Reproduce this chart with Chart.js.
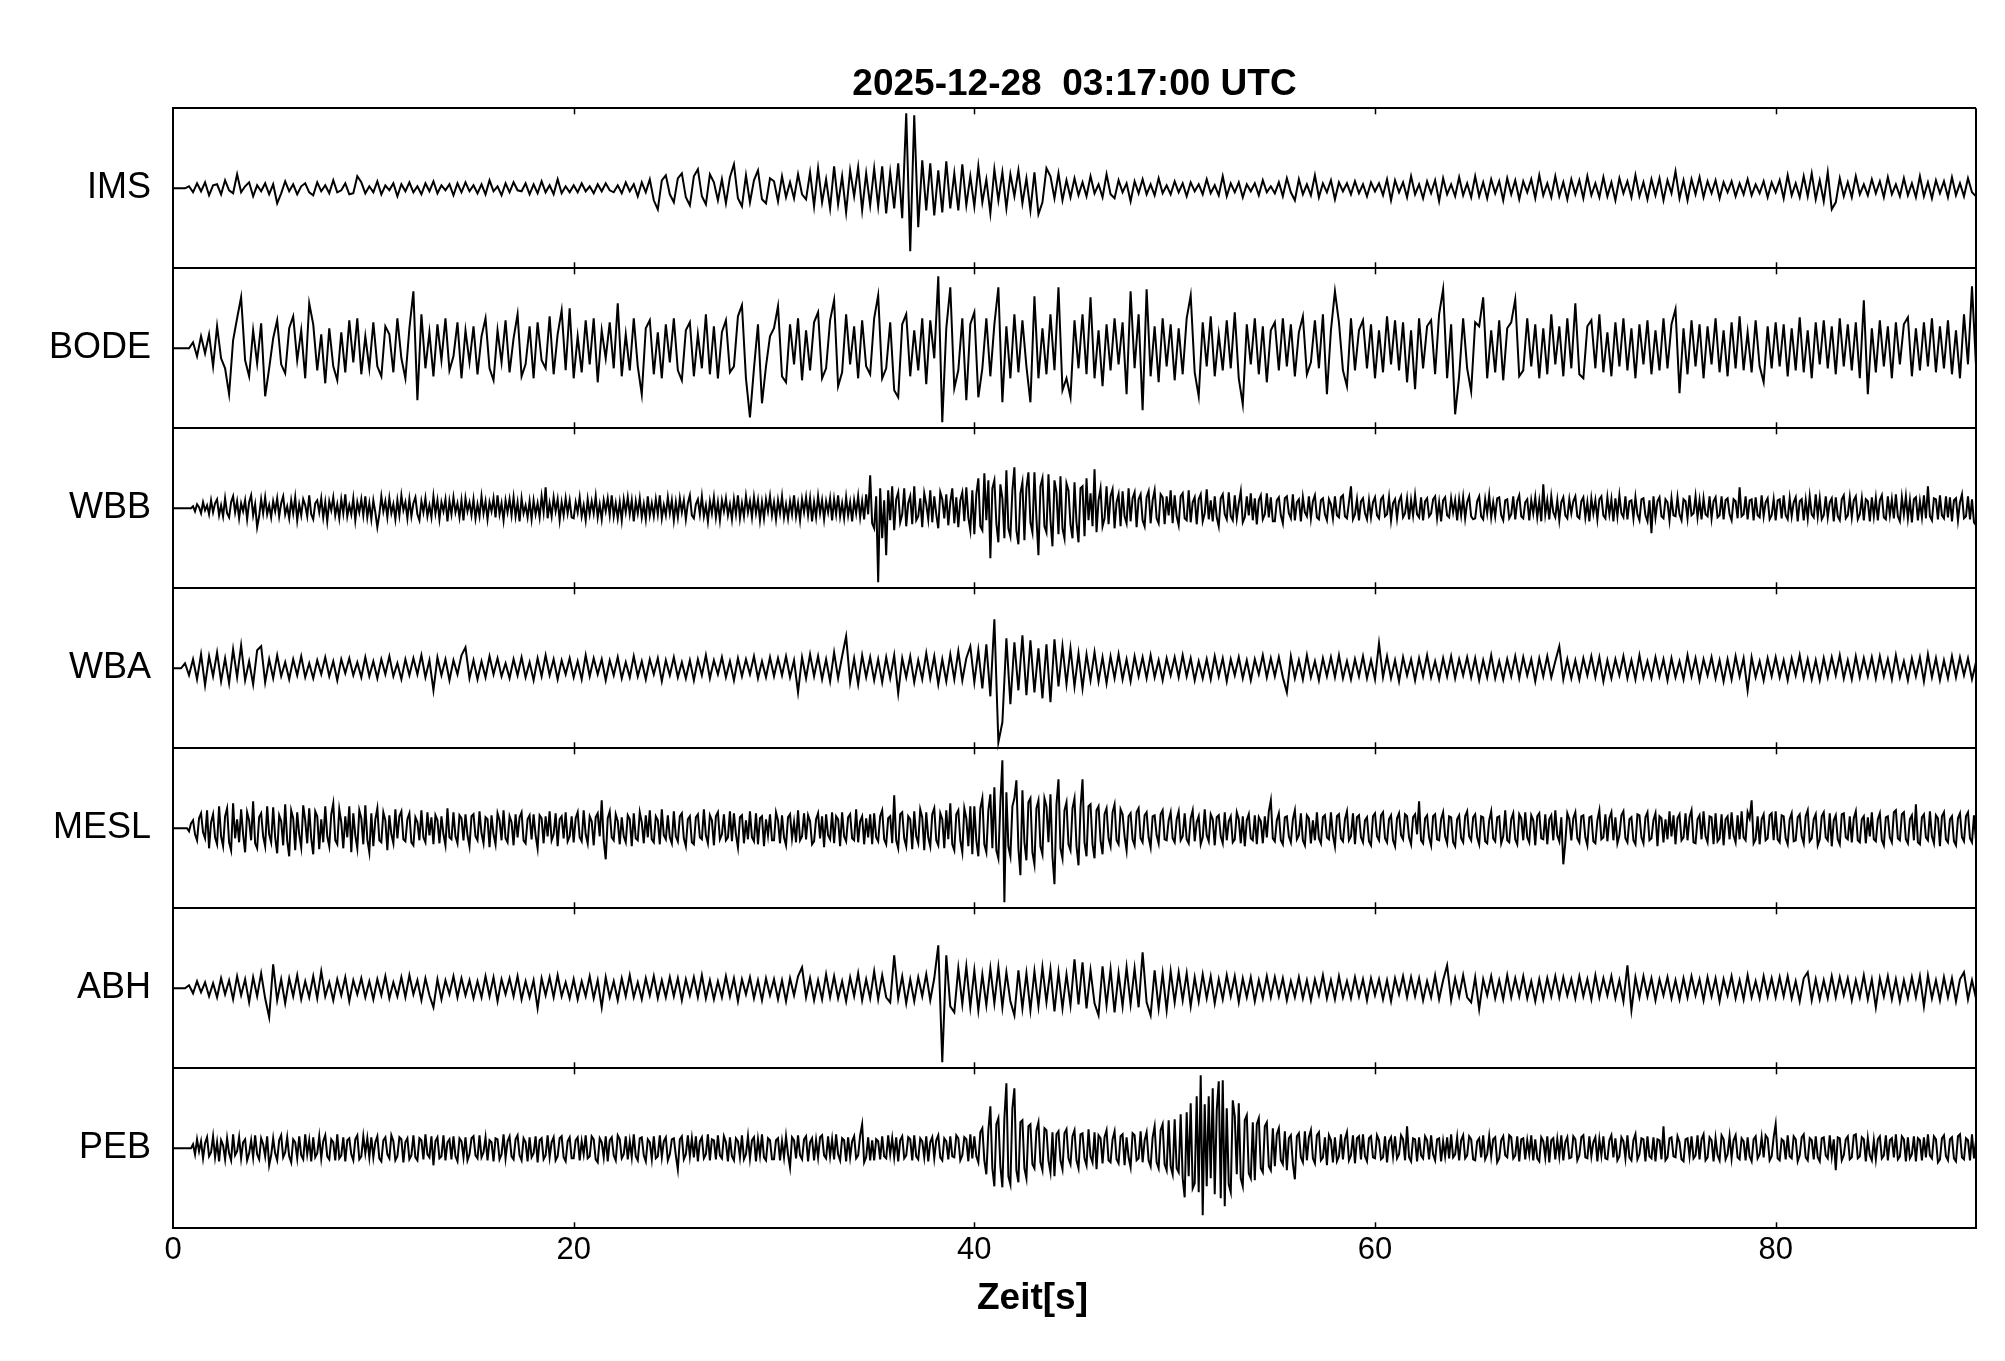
<!DOCTYPE html>
<html>
<head>
<meta charset="utf-8">
<title>Seismogramm</title>
<script src="https://cdn.jsdelivr.net/npm/chart.js@4.4.1/dist/chart.umd.min.js"></script>
<style>
  html, body { margin: 0; padding: 0; background: #fff; }
  canvas { display: block; }
</style>
</head>
<body>
<canvas id="seismo" width="2005" height="1361"></canvas>
<script>
const TITEL = "2025-12-28  03:17:00 UTC";
const X_TITEL = "Zeit[s]";
const STATIONEN = ["IMS", "BODE", "WBB", "WBA", "MESL", "ABH", "PEB"];
const ABTAST = [0.2, 0.2, 0.1, 0.2, 0.1, 0.2, 0.1];
const X_TICKS = [0, 20, 40, 60, 80];

const IMS = [
  0,0,0,0,2,-4,5,-3,6,-7,3,4,-6,8,-2,-5,14,-4,2,6,-8,3,-3,5,-6,
  4,-15,-5,7,-3,4,-6,2,5,-4,-7,6,-3,3,-5,8,-4,-2,5,-6,-5,12,6,-5,2,
  -4,7,-6,3,-2,5,-8,4,-3,6,-4,2,-6,5,-3,7,-5,3,-2,4,-7,5,-4,6,-3,
  3,-5,4,-6,8,-3,2,-7,5,-4,6,-2,-3,5,-6,4,-5,7,-4,3,-6,9,-5,2,-4,
  3,-4,5,-3,2,-5,4,-3,5,-2,-4,3,-5,6,-3,4,-8,6,-4,9,-12,-21,8,13,-6,
  -14,10,15,-9,-17,12,19,-8,-16,14,6,-12,9,-15,11,24,-10,-18,13,-14,8,18,-11,-15,10,
  7,-13,12,-9,6,-10,14,-6,-11,16,-18,20,-14,9,-20,22,-16,12,-24,18,-8,21,-22,15,-17,
  20,-18,22,-25,16,-20,25,-30,75,-63,73,-39,28,-22,25,-27,18,-24,27,-20,15,-22,24,-17,12,
  -18,22,-14,9,-25,19,-12,16,-20,14,-8,18,-15,10,-22,16,-26,-14,20,12,-10,15,-12,8,-9,
  10,-7,6,-8,12,-5,4,-9,14,-6,-10,8,-4,5,-13,7,-5,9,-6,4,-7,10,-5,3,-6,
  7,-4,5,-8,6,-3,4,-6,9,-5,3,-7,12,-8,5,-4,6,-9,4,-3,5,-7,8,-4,2,
  -5,6,-8,10,-4,-12,9,-6,4,-7,13,-9,5,-4,8,-11,6,-3,5,-6,7,-5,4,-8,6,
  -3,5,-7,9,-12,8,-4,6,-9,12,-6,4,-10,7,-5,8,-13,10,-6,4,-8,11,-7,5,-9,
  12,-8,6,-10,9,-5,7,-12,10,-6,8,-11,7,-4,9,-10,13,-7,5,-9,12,-8,6,-11,9,
  -6,8,-10,12,-7,5,-9,11,-8,6,-12,10,-5,7,-9,13,-8,6,-11,9,-7,10,-12,8,-5,
  17,-10,8,-12,9,-6,11,-9,7,-5,8,-10,6,-4,7,-8,5,-6,9,-7,4,-5,7,-9,6,
  -4,8,-10,13,-7,5,-9,12,-8,15,-11,8,-13,16,-21,-14,10,-8,6,-9,12,-6,4,-7,9,
  -5,7,-9,11,-6,4,-8,10,-7,5,-9,12,-8,6,-10,8,-5,7,-9,11,-7,5,-8,10,-4,
  -8
];

const BODE = [
  0,0,0,0,0,6,-8,12,-5,14,-18,22,-10,-20,-46,8,30,51,-12,-28,18,-15,25,-48,-20,
  10,28,-16,-25,20,32,-12,18,-30,45,24,-22,14,-35,20,-18,-32,16,-24,28,-14,30,-26,12,-20,
  26,-18,-28,22,14,-24,30,-10,-30,20,57,-52,34,-20,16,-28,24,-12,30,-22,-8,26,-30,18,-14,
  22,-26,12,30,-20,-32,18,-14,28,-24,10,34,-28,-16,22,-30,26,-12,-20,32,-26,14,38,-22,40,
  -30,12,-24,28,-16,30,-34,18,-10,26,-20,45,-28,14,-22,30,-18,-46,20,28,-26,16,-30,24,-14,
  30,-22,-32,18,26,-28,14,-20,34,-26,22,-30,16,28,-24,-18,32,43,-30,-69,-20,24,-55,-18,12,
  20,42,-28,-34,24,-16,30,-32,18,-22,26,36,-30,-20,28,48,-38,-24,34,-16,22,-30,28,-18,-26,
  30,53,-30,-20,26,-42,-49,24,34,-28,18,-22,30,-36,28,-10,72,-74,20,61,-40,-22,30,-52,24,
  36,-49,-20,30,-28,24,61,-54,22,-30,34,-24,28,-18,-54,52,-30,20,-26,34,-22,61,-42,-30,-49,
  28,-20,34,-26,51,-30,18,-38,24,-22,30,-16,26,-46,57,-20,34,-62,59,-28,22,-34,30,-18,24,
  -32,20,-26,30,53,-24,-48,26,-18,32,-28,14,-22,28,-20,36,-30,-56,24,-16,30,-26,22,-34,18,
  26,-22,30,-18,24,-28,16,32,-26,-14,28,-20,34,-46,18,57,26,-22,-38,30,-22,18,28,-20,24,
  -30,18,-24,32,-16,28,-22,26,-34,18,-41,30,-20,22,28,-26,34,59,-30,24,-66,-28,30,-20,-43,
  26,22,51,-30,18,-24,28,-32,20,26,49,-28,-22,30,-18,24,-30,20,-26,34,-16,22,-28,30,-20,
  45,-26,-30,22,28,-20,34,-24,16,-28,26,-18,30,-22,20,-30,24,-16,28,-26,18,-22,30,-20,24,
  39,-45,20,-26,28,-18,24,-30,22,-16,30,-24,18,-28,26,-20,32,-22,16,-24,28,-18,-34,22,-20,
  26,-18,24,-28,20,-22,31,-24,18,-30,26,-16,28,-20,22,-26,30,-18,24,-22,26,-30,48,-46,20,
  -24,28,-18,22,-30,26,-16,24,31,-28,20,-22,26,-18,30,-24,22,-20,28,-26,18,-30,34,-16,62,
  -17
];

const WBB = [
  0,0,0,0,0,0,0,0,0,0,2,-3,4,1,-5,6,-2,3,-6,8,-4,5,9,-7,3,-8,10,-5,-9,6,12,-4,7,-10,5,-3,8,-11,6,13,-7,4,-19,-8,9,-5,11,-6,3,-9,
  7,-3,10,-8,5,12,-6,2,-10,8,-5,11,-12,4,-7,9,3,-8,13,-6,-11,5,8,-4,10,-9,6,-13,7,-2,11,-7,4,-10,9,-5,14,-8,3,-6,10,-12,6,-4,9,-7,12,-9,5,-11,
  8,-4,-19,-6,12,-3,7,-9,10,-5,4,-11,8,-7,13,-2,6,-10,9,-8,5,11,-6,-12,7,-4,10,-8,3,-9,12,-5,8,-11,6,-3,9,-13,7,-6,11,-4,5,-9,8,-12,10,-3,6,-7,
  9,-10,4,-8,12,-5,7,-11,6,-3,10,-9,13,-6,5,-12,8,-4,9,-7,11,-8,6,-13,10,-5,3,-9,7,-11,8,-6,5,-9,12,-4,21,-10,5,-8,11,-3,9,-12,6,-7,10,-5,8,-9,
  -10,6,-4,11,-8,3,-12,9,-6,7,-5,12,-9,4,-11,8,-3,10,-7,13,-8,5,-10,6,-12,9,-4,11,-6,8,-13,7,-5,10,-9,4,-11,12,-7,5,-8,9,-6,13,-10,3,-7,11,-5,8,
  -12,6,-9,10,-4,8,-11,5,13,-7,-10,4,9,-6,12,-8,3,-13,7,-5,11,-9,6,-12,8,-3,10,-7,4,-11,9,-6,13,-10,5,-8,12,-4,7,-9,11,-5,8,-12,6,-10,9,-3,12,-7,
  6,-11,8,-5,12,-9,4,-10,7,-6,13,-8,5,-12,9,-4,11,-7,10,-13,6,-9,12,-5,8,-11,7,-4,10,-12,9,-6,13,-8,5,-10,11,-7,6,-13,8,-5,12,-9,7,-11,14,-6,33,-15,
  -20,12,-74,20,-30,8,-47,18,-12,22,-22,9,16,-14,-6,20,-18,5,12,-16,22,-12,-8,10,-19,15,4,-11,18,-14,12,-6,-20,16,9,-10,14,-17,6,20,-15,11,-19,8,16,-13,21,-9,-22,18,
  -26,14,30,-18,-22,35,-12,28,-50,20,28,-15,-34,24,10,-30,38,-20,-28,18,41,-22,-36,15,26,-32,20,36,-14,-24,36,-10,-47,22,30,-18,-24,34,-12,-38,28,16,-26,32,-20,-30,25,18,-16,-30,
  26,-14,-34,20,22,-28,30,-12,15,-18,39,-24,8,20,-18,-10,22,-16,12,19,-20,6,14,-18,17,-8,-15,20,-13,10,16,-19,9,14,-12,-18,11,17,-15,8,18,-10,-15,14,11,-16,12,-7,18,-15,
  13,-8,-17,12,15,-10,-12,18,-14,6,11,-16,9,14,-13,-5,19,-11,8,-13,12,-9,-18,10,14,-6,-11,16,-8,-12,13,-10,5,17,-14,-9,12,-7,15,-12,10,-16,8,13,-11,-6,15,-9,11,-13,
  -13,8,11,-7,-15,10,12,-5,-10,14,-12,6,9,-13,11,-4,-8,12,-10,7,13,-9,-11,8,10,-6,-12,9,4,-10,12,-7,-9,11,13,-8,-10,6,22,-11,-6,9,-12,7,10,-5,-11,8,-9,6,
  11,-7,-10,9,12,-8,-6,11,-12,5,9,-10,7,12,-9,-5,10,-11,8,-7,13,-6,-9,11,-12,7,10,-8,-5,9,12,-10,6,-13,8,11,-7,-9,10,-4,8,-12,9,-7,11,-10,6,12,-8,-11,
  -10,7,12,-8,-11,9,-5,13,-9,6,-8,10,11,-7,-12,8,9,-10,-6,12,-11,7,13,-8,-10,6,9,-12,8,-5,11,-9,7,-13,24,-6,8,-11,12,-4,-9,8,-12,6,11,-7,-10,9,-5,7,
  12,-8,-10,7,11,-9,6,-13,10,-5,8,-11,9,12,-7,-10,11,-6,9,-13,10,-8,13,-5,-9,12,-11,7,8,-10,11,-6,-12,9,10,-7,-13,8,-25,12,-9,7,11,-8,-10,9,6,-12,10,-7,
  -8,11,-6,-12,9,7,-10,13,-7,-5,12,-9,8,-11,10,-6,-8,12,-10,7,11,-9,-7,12,-11,8,10,-6,-12,9,7,-10,21,-8,-6,12,-11,8,9,-12,11,-7,-9,13,-8,6,10,-11,-7,9,
  -12,8,9,-10,13,-7,-11,10,-8,6,11,-13,7,9,-12,8,-10,12,-6,-9,14,-8,10,-11,-7,12,-9,6,10,-13,11,-8,-12,9,13,-10,-7,11,-9,8,12,-11,-6,10,-12,9,7,-13,11,-8,
  10,-12,8,13,-9,-11,12,-7,9,-10,14,-8,-13,11,-6,12,-10,8,-14,9,11,-12,7,-9,13,-10,22,-8,-12,10,9,-11,13,-7,-10,12,-9,11,-13,8,10,-12,6,14,-10,-8,12,-11,9,-14,
  -17
];

const WBA = [
  0,0,0,5,-7,9,-11,14,-17,12,-8,16,-13,10,-15,19,-9,23,-12,7,-16,18,22,-14,9,
  -10,13,-8,6,-11,9,-7,12,-9,5,-10,8,-6,11,-8,7,-12,9,-5,10,-7,6,-9,11,-8,
  7,-10,9,-6,12,-8,5,-11,9,-7,10,-6,13,-9,8,-22,11,-7,9,-12,8,-6,13,21,-10,
  8,-11,7,-9,12,-6,10,-8,5,-10,9,-7,11,-9,6,-12,10,-8,13,-7,9,-11,8,-6,10,
  -9,7,-11,13,-8,10,-6,9,-12,8,-7,11,-10,6,-9,12,-8,7,-11,9,-6,10,-13,8,-7,
  11,-9,6,-10,8,-12,9,-7,13,-10,8,-6,11,-9,7,-12,10,-8,9,-6,12,-10,7,-9,11,
  -8,10,-7,12,-9,8,-24,11,-10,14,-8,12,-11,9,-13,16,-10,12,32,-14,10,-16,13,-9,11,
  -12,9,-14,11,-10,13,-25,10,-9,12,-14,8,-11,15,-10,12,-16,9,-13,14,-11,17,-12,10,22,
  -14,18,-20,24,-28,49,-74,-54,30,-36,26,-22,33,-27,28,-24,20,-30,24,-34,29,-18,22,-16,20,
  -18,15,-20,14,-12,16,-13,11,-15,12,-10,14,-11,9,-13,12,-8,11,-10,13,-9,8,-12,10,-7,
  11,-9,13,-8,10,-12,7,-10,9,-11,12,-8,10,-13,9,-7,11,-10,8,-12,9,-6,13,-9,10,
  -8,11,-9,-24,12,-10,8,-11,13,-9,7,-12,10,-8,11,-9,13,-10,7,-11,9,-8,12,-10,8,
  -11,25,-9,12,-10,8,-13,11,-7,9,-12,10,-8,13,-9,7,-11,10,-8,12,-10,9,-7,11,-9,
  10,-12,8,-9,13,-10,7,-11,9,-8,12,-10,11,-7,9,-13,10,-8,12,-9,7,22,-11,9,-10,
  8,-11,10,-7,12,-9,11,-13,8,-10,9,-7,12,-10,8,-11,13,-9,7,-10,11,-8,9,-12,10,
  -9,7,-11,13,-8,10,-12,9,-7,11,-10,8,-13,9,-11,12,-8,10,-22,11,-9,7,-12,10,-8,
  11,-9,8,-12,10,-7,13,-10,9,-11,8,-12,10,-9,11,-7,13,-10,8,-11,12,-9,10,-8,11,
  -10,12,-8,9,-11,13,-9,7,-12,10,-8,11,-13,14,-9,10,-12,8,-10,12,-9,11,-7,10,-11,
  6
];

const MESL = [
  0,0,0,0,0,0,0,0,-3,5,8,-6,-12,10,15,-4,-10,18,-20,6,14,-9,-16,22,-8,-18,12,20,-14,-22,25,-10,9,-14,19,-6,-24,16,8,-12,27,-15,-20,11,15,-8,-18,22,-6,-14,
  21,-9,-25,13,7,-17,24,-12,-28,18,10,-22,16,-6,-19,23,8,-15,20,-10,-26,17,12,-21,9,-14,22,-8,-18,14,25,-12,-16,19,6,-20,12,-9,22,-24,15,-7,-20,18,10,-16,23,-11,-24,15,
  -18,9,20,-12,-14,16,8,-22,13,-6,-15,19,-10,12,17,-11,-13,9,15,-14,-17,11,6,-12,18,-9,-14,16,-7,11,-16,13,8,-15,12,-6,-17,20,-9,-11,16,-8,-15,13,10,-12,14,-7,-18,12,
  14,-8,-12,17,-5,-15,11,9,-19,13,-6,-16,15,8,-12,18,-10,-14,12,6,-17,14,-9,11,16,-12,-15,9,13,-11,14,-7,-20,13,10,-15,12,-8,17,-12,-6,15,-18,9,12,-10,16,-13,-8,12,
  -14,10,16,-9,-13,18,-6,-15,12,7,-17,11,15,-8,28,-12,-31,10,17,-9,-12,14,7,-16,11,-8,-14,13,9,-18,15,-10,-12,16,6,-15,13,-9,18,-11,-14,12,8,-16,19,-7,-11,13,-9,-15,
  17,-8,-13,12,15,-10,-18,9,12,-14,-16,11,14,-9,-11,19,-7,-15,13,8,-17,12,16,-11,-6,14,-12,-9,17,-13,15,-6,-19,11,13,-15,8,-11,17,-9,-13,15,-16,10,12,-18,9,-7,14,-12,
  -12,16,8,-15,13,-9,-17,11,14,-10,6,-14,18,-12,-8,15,-11,13,7,-16,-13,9,15,-10,12,-19,14,-7,-11,16,-15,12,9,-18,16,-8,-13,11,14,-10,-12,19,-14,7,12,-16,10,-9,14,-16,
  15,-9,-13,12,18,-11,-16,10,12,-15,33,-12,-20,14,16,-10,-18,12,9,-21,17,-8,-15,19,11,-22,16,-9,-18,14,20,-12,-17,15,9,-20,18,-11,25,-16,-22,14,18,-12,-24,20,10,-18,22,-26,
  22,-12,-28,20,30,-16,-24,18,34,-20,41,-22,-30,26,68,-74,36,-18,-28,22,30,48,-20,-47,38,-14,-32,26,30,-24,-36,20,28,-18,-26,30,22,-14,34,-28,-56,24,49,-20,-30,18,26,-16,-22,20,
  30,-18,-37,20,49,-14,-28,22,24,-16,-30,18,22,-12,-26,14,20,-10,-18,16,24,-12,-16,19,14,-8,-22,12,15,-11,-17,16,20,-10,-14,13,16,-9,-19,12,13,-7,-15,14,18,-11,-12,8,16,-10,
  -14,9,17,-12,-8,15,-11,-15,10,18,-13,6,12,-16,-9,19,-7,-13,14,9,-17,11,13,-8,-15,16,-12,7,12,-14,-11,16,9,-15,12,-18,8,14,-10,-12,13,-16,11,7,-15,12,-9,17,28,-10,
  -13,8,15,-12,-16,11,12,-8,-14,9,18,-11,-7,15,-12,-17,13,10,-15,8,-12,16,-10,-15,11,13,-9,-11,16,-7,-18,12,14,-10,-13,9,17,-12,-8,15,-16,11,13,-9,-14,8,11,-13,-17,12,
  15,-8,-12,13,16,-10,-14,9,13,-12,-18,10,15,-7,-11,14,12,-9,-16,11,14,-6,27,-12,-15,10,13,-9,-17,12,14,-11,-12,9,16,-8,-15,12,11,-14,-18,9,13,-10,-14,12,17,-8,-12,11,
  14,-9,-16,12,11,-13,-15,8,17,-10,-13,11,12,-15,-8,18,-12,-14,9,15,-11,-16,14,10,-12,16,-9,-14,13,8,-17,12,15,-10,-11,14,-16,9,13,-12,18,-7,-13,11,-36,-14,15,9,-12,10,
  16,-10,-14,12,13,-9,-17,11,12,-13,-15,8,18,-11,-9,14,-13,10,16,-12,11,-15,-7,13,17,-10,-14,9,11,-12,-16,14,13,-9,-15,11,16,-12,-10,8,15,-18,12,10,-14,9,-11,17,-8,13,
  -16,10,14,-12,-9,15,-12,11,18,-14,-15,9,13,-11,17,-8,-14,12,11,-16,15,-13,-10,14,-17,9,12,-11,16,-7,-14,13,-11,17,-9,-12,16,10,28,-15,-11,12,-16,9,14,-12,-10,13,15,-12,
  17,-11,-14,13,12,-10,-16,9,15,-13,-12,11,14,-8,-15,12,18,-13,-10,9,14,-17,-11,12,16,-9,-12,15,-18,8,13,-11,-16,14,15,-9,-11,12,-14,10,17,-12,-14,9,12,-15,11,-8,16,-11,
  -13,9,15,-12,-17,11,12,-9,-14,16,18,-10,-12,14,16,-11,-15,9,13,-12,24,-14,-16,11,14,-9,-12,17,-8,-15,13,10,-18,12,16,-11,-14,9,12,-13,-17,10,15,-9,-13,12,16,-10,-14,13,
  -12
];

const ABH = [
  0,0,0,0,3,-5,7,-4,6,-8,5,-9,10,-6,8,-11,12,-7,9,-14,11,-8,15,-10,-29,
  24,-12,9,-15,10,-8,13,-11,7,-9,12,-10,17,-8,6,-12,9,-7,11,-13,8,-6,10,-9,7,
  -11,9,-7,12,-10,6,-8,11,-9,13,-6,8,-12,10,-7,-19,9,-11,8,-6,12,-9,10,-7,8,
  -10,7,-9,12,-8,11,-13,9,-6,10,-8,12,-11,7,-9,8,-20,10,-7,11,-9,13,-8,6,-10,
  9,-11,7,-8,12,-10,8,-19,11,-9,7,-12,10,-8,13,-9,6,-11,10,-7,12,-10,8,-9,11,
  -8,10,-12,9,-7,11,-9,13,-10,8,-11,7,-9,12,-8,10,-13,9,-6,11,-10,8,-12,10,-7,
  9,-11,8,-13,10,-7,12,21,-9,10,-12,8,-11,14,-9,12,-10,7,-13,11,-8,15,-12,9,-10,
  17,-11,13,-9,-14,33,-10,12,-15,9,-13,11,-8,14,-12,10,43,-74,33,-18,-24,20,-16,22,-19,
  18,-22,14,-17,20,-15,21,-19,16,-13,-27,18,-20,15,-22,17,-18,21,-14,19,-23,16,-20,14,-17,
  29,-16,26,-20,18,-15,-27,22,-17,19,-24,15,-18,21,-16,20,-19,36,-14,-27,18,-20,15,-22,17,
  -14,16,-12,15,-18,11,-13,14,-10,12,-15,9,-11,13,-8,12,-14,10,-9,11,-13,8,-10,12,-9,
  11,-8,10,-12,7,-9,11,-10,8,-12,9,-7,13,-10,8,-11,12,-9,7,-10,11,-8,9,-12,10,
  -7,9,-11,8,-13,10,-6,12,-9,11,-8,10,-12,7,-9,13,-11,8,23,-12,10,-8,13,-9,-14,
  11,-21,9,-7,12,-10,8,-11,13,-9,10,-8,12,-10,7,-13,9,-11,10,-8,12,-9,11,-7,9,
  -10,12,-8,9,-11,13,-9,10,-7,12,-10,8,-13,23,-22,11,-9,12,-8,10,-12,9,-7,11,-10,
  8,-11,10,-9,12,-7,9,-12,11,-8,10,-13,9,-7,12,-10,8,-11,13,-9,7,-10,12,-8,10,
  -9,11,-8,12,-10,7,-13,10,16,-12,9,-11,8,-10,12,-9,11,-7,10,-12,8,-9,13,-11,9,
  -19,10,-8,12,-11,9,-13,8,-10,11,-9,12,-18,13,-10,8,-12,11,-9,10,-13,9,16,-11,8,
  -10
];

const PEB = [
  0,0,0,0,0,0,0,0,0,0,4,-6,9,-3,7,-10,5,11,-8,-4,12,-9,6,-13,8,3,-11,10,-5,-12,14,-7,-3,11,-10,6,9,-12,-5,8,-9,13,-6,-11,10,4,-8,12,-17,-7,
  10,-5,-12,8,13,-9,-4,11,-8,-14,9,6,-10,12,-7,-11,14,-6,8,-13,11,-9,-5,12,-10,7,13,-8,-11,9,6,-12,14,-10,-7,11,-13,8,10,-6,-12,9,13,-11,-8,12,-5,10,-9,11,
  -9,6,12,-10,-13,8,11,-6,-10,13,7,-12,-8,11,9,-14,6,10,-11,-7,13,-9,-12,10,8,-11,14,-6,-9,12,-17,7,11,-10,-8,13,-12,6,9,-11,12,-8,-13,10,7,-9,11,-12,-6,10,
  12,-7,-10,13,-9,-4,11,-12,8,6,-13,10,9,-11,-6,14,-10,7,12,-8,-11,9,13,-7,-12,10,6,-13,11,-9,-5,12,-14,8,10,-11,-7,13,-9,6,11,-12,-8,10,12,-9,-13,7,11,-10,
  -10,8,11,-12,7,-6,13,-10,-8,12,9,-11,-14,10,6,-9,12,-13,8,11,-7,-12,13,9,-10,-6,12,-11,7,-9,14,-8,-12,10,11,-7,-13,9,6,-11,12,-10,-8,13,-9,7,11,-12,-6,9,
  10,-7,-21,9,12,-11,-6,13,-8,10,-9,12,-13,7,11,-10,-6,14,-12,9,8,-11,13,-7,-10,12,6,-13,11,-8,-12,10,7,-9,13,-11,-6,12,-10,8,11,-13,9,-7,14,-9,-12,10,8,-11,
  -11,8,10,-12,7,-9,12,-6,-19,11,8,-10,13,-7,-11,9,12,-13,6,10,-12,8,-9,11,13,-7,-10,12,-8,9,-11,14,-6,-12,10,8,-13,11,-9,7,12,-10,-7,13,24,-14,-9,11,-12,8,
  -12,9,7,-11,12,-8,-10,13,-6,10,-9,11,-13,8,12,-10,-7,11,9,-12,13,-8,-11,10,7,-9,12,-13,6,11,-10,8,13,-9,-12,10,7,-11,12,-8,-9,13,10,-12,-7,11,9,-13,14,-10,
  12,-8,-14,16,20,-12,-26,18,42,-20,-38,24,30,-18,-39,30,65,-28,-36,40,60,-22,-34,26,28,-20,-30,22,24,-16,-20,18,26,-14,-22,20,18,-12,-24,16,-28,14,17,-12,-21,15,19,-10,-16,12,
  18,-12,-20,14,15,-10,-17,19,-8,-14,16,-21,13,10,-15,11,18,-12,-14,9,17,-11,-15,12,14,-17,11,-9,-19,15,13,-12,-10,17,-14,8,16,-12,-18,11,22,-14,-20,18,24,-16,-22,28,-18,-26,
  29,-20,-24,34,-30,-49,36,-28,45,-40,-35,52,-44,73,-67,44,-38,52,-30,60,-46,38,67,-50,68,-58,40,-36,-44,48,32,-26,45,-30,-38,28,33,-25,-30,26,-32,24,30,-20,-24,22,26,-18,-22,20,
  -18,14,20,-12,-16,17,-22,10,13,-15,-31,12,15,-9,-14,17,-12,11,18,-10,-15,13,16,-12,-9,11,-17,13,8,-14,11,-13,-8,14,-11,9,16,-12,-7,13,-15,10,12,-11,14,-8,-13,10,12,-9,
  -10,13,8,-11,-9,12,-14,7,11,-8,12,-10,-6,13,9,-12,22,-9,-13,10,9,-13,11,-7,-10,12,8,-11,13,-6,-12,9,10,-13,7,-8,11,-10,14,-9,-6,11,-12,8,13,-10,-7,12,9,-11,
  -12,7,10,-9,13,-11,-6,12,-8,9,11,-14,-10,8,12,-7,-9,13,11,-10,-7,12,-13,9,10,-11,8,-6,13,-12,9,-10,-13,11,7,-9,12,-14,8,10,-11,9,-8,13,-12,6,11,-10,-9,12,
  9,-12,-7,11,13,-9,-10,12,-8,6,11,-13,9,-7,12,-10,-11,8,13,-9,10,-12,-8,11,7,-10,13,-9,-12,8,14,-11,-6,10,9,-13,12,-8,-10,11,-13,9,8,-11,22,-12,-9,10,11,-8,
  -9,12,6,-11,-13,9,10,-8,12,-10,-7,13,-11,9,14,-12,-9,11,8,-13,10,-7,-12,13,9,-11,-6,12,-10,8,13,-9,-11,10,7,-12,11,-8,-13,9,12,-10,-6,11,-9,13,10,-12,-8,11,
  24,-10,-12,9,7,-11,13,-8,-10,12,9,-13,-7,11,14,-9,-12,10,8,-11,12,-9,-13,10,11,-7,-10,13,-8,9,-22,11,10,-12,-7,9,12,-11,-9,13,14,-10,-8,11,9,-13,10,-7,-12,8,
  -11,9,12,-10,-7,13,-12,8,10,-9,14,-11,-8,12,9,-13,11,-10,-6,12,-13,10,8,-12,11,-9,14,-7,-10,12,9,-14,-11,10,13,-8,-12,9,11,-10,-13,12,14,-9,-11,10,8,-12,14,-10,
  8
];

const SPUREN = [IMS, BODE, WBB, WBA, MESL, ABH, PEB];

// jede Spur bekommt ein Band von 160 Einheiten, von oben nach unten
const BAND = 160;
const N = STATIONEN.length;
const Y_MAX = N * BAND / 2;
const mitten = STATIONEN.map((_, k) => Y_MAX - BAND / 2 - k * BAND);
const grenzen = [];
for (let k = 0; k <= N; k++) grenzen.push(Y_MAX - k * BAND);

const datasets = SPUREN.map((werte, k) => ({
  label: STATIONEN[k],
  data: werte.map((v, i) => ({ x: i * ABTAST[k], y: mitten[k] + v })),
  borderColor: "#000",
  borderWidth: 2,
  pointRadius: 0,
  tension: 0,
  fill: false
}));

// rechter Rand, kurze Zeitmarken an jeder Bandgrenze und die x-Beschriftung
const rahmen = {
  id: "rahmen",
  afterDatasetsDraw(chart) {
    const { ctx, chartArea, scales } = chart;
    ctx.save();
    ctx.strokeStyle = "#000";
    ctx.lineWidth = 2;
    ctx.beginPath();
    ctx.moveTo(chartArea.right, chartArea.top);
    ctx.lineTo(chartArea.right, chartArea.bottom);
    ctx.stroke();
    ctx.lineWidth = 1.5;
    grenzen.forEach((g, k) => {
      const y = scales.y.getPixelForValue(g);
      X_TICKS.forEach((t) => {
        if (t === 0) return;
        const x = Math.round(scales.x.getPixelForValue(t)) + 0.5;
        ctx.beginPath();
        ctx.moveTo(x, k === 0 ? y : y - 6);
        ctx.lineTo(x, k === N ? y : y + 6);
        ctx.stroke();
      });
    });
    // Achsentitel sitzt in der Vorlage etwas links der Mitte
    ctx.fillStyle = "#000";
    ctx.font = "bold 37px 'Liberation Sans', Arial, sans-serif";
    ctx.textAlign = "center";
    ctx.textBaseline = "middle";
    ctx.fillText(X_TITEL, chart.width / 2 + 30, chartArea.bottom + 70);
    ctx.restore();
  }
};

Chart.defaults.font.family = "'Liberation Sans', Arial, Helvetica, sans-serif";
Chart.defaults.color = "#000";

new Chart(document.getElementById("seismo"), {
  type: "line",
  data: { datasets },
  options: {
    responsive: false,
    animation: false,
    devicePixelRatio: 1,
    parsing: false,
    normalized: true,
    layout: { padding: { left: 0, right: 29, top: 0, bottom: 0 } },
    plugins: {
      legend: { display: false },
      tooltip: { enabled: false },
      title: {
        display: true,
        text: TITEL,
        fullSize: false,
        color: "#000",
        font: { size: 37, weight: "bold", lineHeight: 1 },
        padding: { top: 66.5, bottom: 4.8 }
      }
    },
    scales: {
      x: {
        type: "linear",
        min: 0,
        max: 90,
        afterBuildTicks: (scale) => { scale.ticks = X_TICKS.map((v) => ({ value: v })); },
        afterFit: (scale) => { scale.height = 1361 - 1228.3; },
        grid: { display: false, drawTicks: false },
        border: { display: true, color: "#000", width: 2 },
        ticks: { font: { size: 31 }, color: "#000", padding: 4, maxRotation: 0, autoSkip: false }
      },
      y: {
        type: "linear",
        min: -Y_MAX,
        max: Y_MAX,
        afterBuildTicks: (scale) => {
          scale.ticks = grenzen.concat(mitten).sort((a, b) => a - b).map((v) => ({ value: v }));
        },
        afterFit: (scale) => { scale.width = 173; },
        grid: {
          drawTicks: false,
          lineWidth: 2,
          color: (c) => (grenzen.includes(c.tick && c.tick.value) ? "#000" : "rgba(0,0,0,0)")
        },
        border: { display: true, color: "#000", width: 2 },
        ticks: {
          autoSkip: false,
          padding: 22,
          color: "#000",
          font: { size: 36 },
          callback: (v) => {
            const k = mitten.indexOf(v);
            return k >= 0 ? STATIONEN[k] : "";
          }
        }
      }
    }
  },
  plugins: [rahmen]
});
</script>
</body>
</html>
